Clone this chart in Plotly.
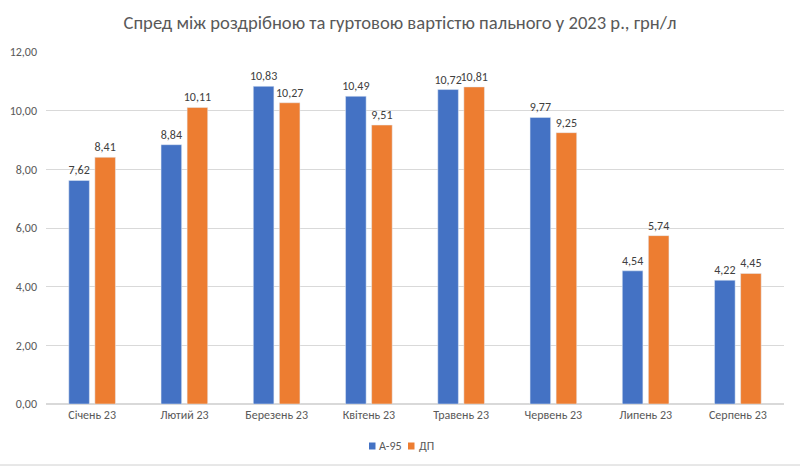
import plotly.graph_objects as go

categories = ["Січень 23", "Лютий 23", "Березень 23", "Квітень 23",
              "Травень 23", "Червень 23", "Липень 23", "Серпень 23"]
a95 = [7.62, 8.84, 10.83, 10.49, 10.72, 9.77, 4.54, 4.22]
dp = [8.41, 10.11, 10.27, 9.51, 10.81, 9.25, 5.74, 4.45]
tick_vals = [0, 2, 4, 6, 8, 10, 12]
tick_text = ["0,00", "2,00", "4,00", "6,00", "8,00", "10,00", "12,00"]
series_names = ["А-95", "ДП"]
colors = ["#4472C4", "#ED7D31"]

def fmt(v):
    return f"{v:.2f}".replace(".", ",")

FONT = "Carlito, Liberation Sans Narrow, Open Sans, sans-serif"

# plot area in pixels
L, R, T, B = 46, 784, 52, 404
W, H = 800, 469

def px(x):
    return (x - L) / (R - L)

def py(y):
    return (B - y) / (B - T)

fig = go.Figure()
for name, vals, col in zip(series_names, [a95, dp], colors):
    fig.add_trace(go.Bar(x=categories, y=vals, name=name, marker_color=col,
                         text=[fmt(v) for v in vals], textposition="outside",
                         textfont=dict(size=12, color="#404040", family=FONT),
                         cliponaxis=False, showlegend=False))

fig.update_layout(
    width=W, height=H,
    margin=dict(l=L, r=W - R, t=T, b=H - B, autoexpand=False),
    paper_bgcolor="white", plot_bgcolor="white",
    barmode="group", bargap=0.435, bargroupgap=0.21,
    uniformtext=dict(minsize=12, mode="show"),
    font=dict(family=FONT, color="#595959", size=12),
    title=dict(text="Спред між роздрібною та гуртовою вартістю пального у 2023 р., грн/л",
               x=0.5, xanchor="center", y=1 - 22 / H, yanchor="middle",
               font=dict(size=18.6, color="#595959", family=FONT)),
    showlegend=False,
    yaxis=dict(range=[0, 12], tickvals=tick_vals, ticktext=tick_text,
               showgrid=True, gridcolor="#D9D9D9", gridwidth=1,
               zeroline=True, zerolinecolor="#D9D9D9", showline=False,
               ticks="", ticklabelstandoff=8,
               tickfont=dict(size=12, color="#595959")),
    xaxis=dict(showline=True, linecolor="#D9D9D9", ticks="",
               tickfont=dict(size=12, color="#595959")),
)

# custom legend (Excel style small squares)
legend_pos = [(369, 377), (408, 417)]
ly = 446
for (sx, tx), name, col in zip(legend_pos, series_names, colors):
    fig.add_shape(type="rect", xref="paper", yref="paper",
                  x0=px(sx), x1=px(sx + 6.5), y0=py(ly + 3.5), y1=py(ly - 3.5),
                  fillcolor=col, line=dict(width=0))
    fig.add_annotation(xref="paper", yref="paper", x=px(tx), y=py(ly),
                       xanchor="left", yanchor="middle", text=name, showarrow=False,
                       font=dict(size=12, color="#595959", family=FONT))

# faint spreadsheet cell border at bottom
fig.add_shape(type="line", xref="paper", yref="paper",
              x0=px(0), x1=px(800), y0=py(465), y1=py(465),
              line=dict(color="#D0D0D0", width=1))

fig.write_html("out.html", config={"displayModeBar": False},
               post_script="document.body.style.margin='0';document.body.style.padding='0';")
